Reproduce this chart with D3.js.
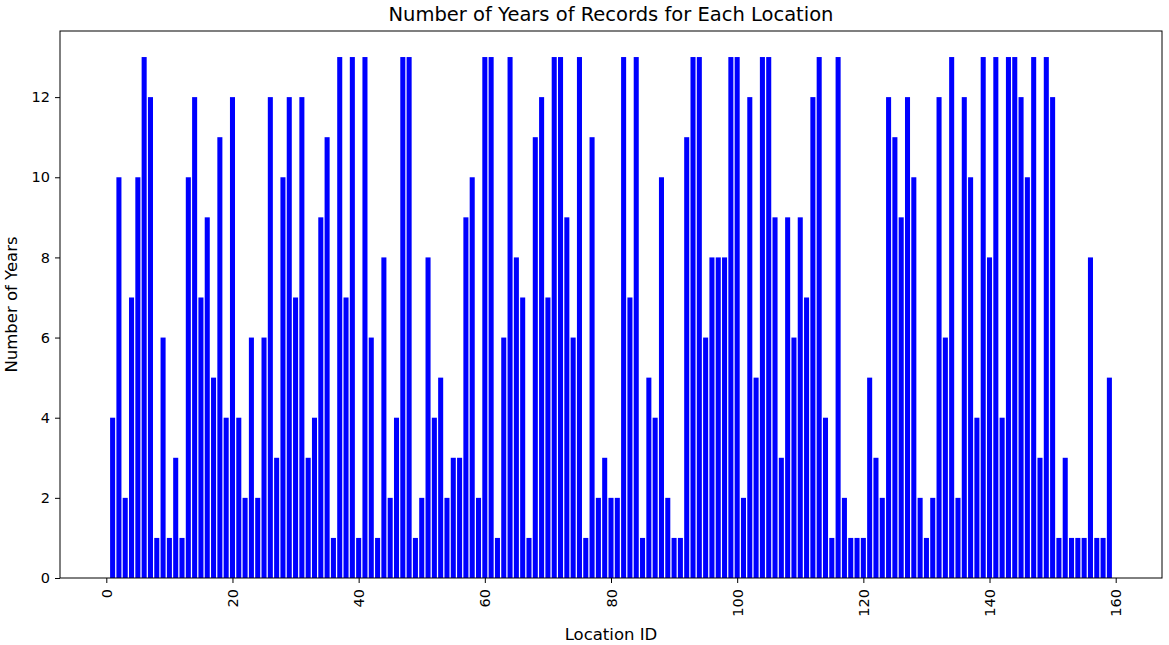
<!DOCTYPE html>
<html><head><meta charset="utf-8">
<script src="https://cdn.jsdelivr.net/npm/d3@7"></script>
<style>body{margin:0;background:#fff;} text{font-family:"DejaVu Sans",sans-serif;}</style>
</head><body>
<svg id="c" width="1169" height="645"></svg>
<script>
const locationIds = d3.range(1, 160);
const years = [
4,10,2,7,10,13,12,1,6,1,3,1,10,12,7,9,5,11,4,12,
4,2,6,2,6,12,3,10,12,7,12,3,4,9,11,1,13,7,13,1,
13,6,1,8,2,4,13,13,1,2,8,4,5,2,3,3,9,10,2,13,
13,1,6,13,8,7,1,11,12,7,13,13,9,6,13,1,11,2,3,2,
2,13,7,13,1,5,4,10,2,1,1,11,13,13,6,8,8,8,13,13,
2,12,5,13,13,9,3,9,6,9,7,12,13,4,1,13,2,1,1,1,
5,3,2,12,11,9,12,10,2,1,2,12,6,13,2,12,10,4,13,8,
13,4,13,13,12,10,13,3,13,12,1,3,1,1,1,8,1,1,5];
const xTicks = [0,20,40,60,80,100,120,140,160];
const yTicks = [0,2,4,6,8,10,12];

const svg = d3.select("#c");
const L = 60, R = 1162, T = 31, B = 578;
const x = d3.scaleLinear().domain([-7.34, 167.34]).range([L, R]);
const y = d3.scaleLinear().domain([0, 13.65]).range([B, T]);
const bw = x(0.8) - x(0);

svg.append("g").selectAll("rect").data(locationIds).join("rect")
  .attr("x", d => x(d - 0.4)).attr("width", bw)
  .attr("y", (d, i) => y(years[i])).attr("height", (d, i) => y(0) - y(years[i]))
  .attr("fill", "#0000ff");

const gx = svg.append("g").attr("transform", `translate(0,${B})`)
  .call(d3.axisBottom(x).tickValues(xTicks).tickSize(5).tickPadding(4).tickFormat(d3.format("d")));
gx.select(".domain").remove();
gx.selectAll("text").attr("transform", "rotate(-90)").attr("text-anchor", "end")
  .attr("x", -11).attr("y", 0).attr("dy", "0.35em").style("font-size", "14.5px").attr("fill", "#000");

const gy = svg.append("g").attr("transform", `translate(${L},0)`)
  .call(d3.axisLeft(y).tickValues(yTicks).tickSize(5).tickPadding(5));
gy.select(".domain").remove();
gy.selectAll("text").style("font-size", "14.5px").attr("fill", "#000");

svg.append("rect").attr("x", L).attr("y", T).attr("width", R - L).attr("height", B - T)
  .attr("fill", "none").attr("stroke", "#000").attr("stroke-width", 1);

svg.append("text").attr("x", (L + R) / 2).attr("y", 21).attr("text-anchor", "middle")
  .style("font-size", "19.5px").text("Number of Years of Records for Each Location");
svg.append("text").attr("x", (L + R) / 2).attr("y", 640).attr("text-anchor", "middle")
  .style("font-size", "16.5px").text("Location ID");
svg.append("text").attr("transform", `translate(17,${(T + B) / 2}) rotate(-90)`).attr("text-anchor", "middle")
  .style("font-size", "16.5px").text("Number of Years");
</script>
</body></html>
